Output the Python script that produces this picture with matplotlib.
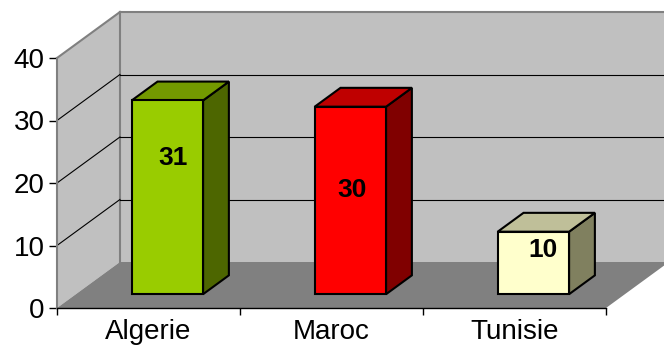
import matplotlib
matplotlib.use('Agg')
import matplotlib.pyplot as plt
from matplotlib.patches import Polygon

# --- DONNEES ---
pays = ['Algerie', 'Maroc', 'Tunisie']
valeurs = [31, 30, 10]
y_ticks = [0, 10, 20, 30, 40]

# couleurs des faces (avant, dessus, cote)
couleurs_face = ['#99CC00', '#FF0000', '#FFFFCC']
couleurs_dessus = ['#739900', '#BF0000', '#BFBF99']
couleurs_cote = ['#4D6600', '#800000', '#80805F']

# --- REGLAGES 3D ---
DX, DY = 0.344, 7.36      # profondeur totale (en unites de donnees)
F0 = 0.30                 # position avant des barres dans la profondeur
FB = 0.41                 # epaisseur des barres dans la profondeur
W = 0.39                  # largeur des barres
# placement des etiquettes (fraction de largeur, fraction de hauteur -> ligne de base)
label_pos = [(0.575, 0.667), (0.52, 0.519), (0.63, 0.596)]

plt.rcParams['font.family'] = ['Liberation Sans', 'DejaVu Sans']

fig = plt.figure(figsize=(6.64, 3.53), dpi=100)
ax = fig.add_axes([57 / 664, 45 / 353, 549 / 664, 250 / 353])
ax.set_xlim(0, 3)
ax.set_ylim(0, 40)
ax.patch.set_visible(False)


def poly(pts, fc, ec='none', lw=0, z=1):
    ax.add_patch(Polygon(pts, closed=True, facecolor=fc, edgecolor=ec,
                         linewidth=lw, zorder=z, clip_on=False))


ymax = y_ticks[-1]
xr = len(pays) + DX + 0.2

# murs et sol
poly([(0, 0), (0, ymax), (DX, ymax + DY), (DX, DY)], '#C0C0C0')
poly([(DX, DY), (DX, ymax + DY), (xr, ymax + DY), (xr, DY)], '#C0C0C0')
poly([(0, 0), (len(pays), 0), (len(pays) + DX, DY), (DX, DY)], '#808080')

# bords gris des murs
ax.plot([0, DX], [ymax, ymax + DY], color='#808080', lw=1.5, clip_on=False, zorder=1.5)
ax.plot([DX, DX], [DY, ymax + DY], color='#808080', lw=1.5, clip_on=False, zorder=1.5)
ax.plot([DX, xr], [ymax + DY, ymax + DY], color='#808080', lw=1.5, clip_on=False, zorder=1.5)

# quadrillage
for t in y_ticks[1:-1]:
    ax.plot([0, DX], [t, t + DY], color='black', lw=0.8, clip_on=False, zorder=1.6)
    ax.plot([DX, xr], [t + DY, t + DY], color='black', lw=0.8, clip_on=False, zorder=1.6)

# barres 3D
for i, v in enumerate(valeurs):
    x0 = i + 0.5 - W / 2 + F0 * DX
    y0 = F0 * DY
    x1 = x0 + W
    top = y0 + v
    bdx, bdy = FB * DX, FB * DY
    ec = 'black'
    poly([(x1, y0), (x1 + bdx, y0 + bdy), (x1 + bdx, top + bdy), (x1, top)],
         couleurs_cote[i], ec, 1.5, 3)
    poly([(x0, top), (x1, top), (x1 + bdx, top + bdy), (x0 + bdx, top + bdy)],
         couleurs_dessus[i], ec, 1.5, 3)
    poly([(x0, y0), (x1, y0), (x1, top), (x0, top)], couleurs_face[i], ec, 1.5, 4)
    fx, fy = label_pos[i]
    ax.text(x0 + W * fx, y0 + v * fy, str(v), ha='center', va='baseline',
            fontsize=19, fontweight='bold', zorder=5)

# axes
ax.spines['top'].set_visible(False)
ax.spines['right'].set_visible(False)
ax.spines['left'].set_color('#808080')
ax.spines['left'].set_linewidth(1.5)
ax.spines['bottom'].set_color('black')
ax.spines['bottom'].set_linewidth(1)

ax.set_yticks(y_ticks)
ax.tick_params(axis='y', length=6, width=1, pad=3, labelsize=20, colors='black')

ax.set_xticks(range(len(pays) + 1))
ax.set_xticklabels([])
ax.set_xticks([i + 0.5 for i in range(len(pays))], minor=True)
ax.set_xticklabels(pays, minor=True)
ax.tick_params(axis='x', which='major', length=5, width=1)
ax.tick_params(axis='x', which='minor', length=0, pad=8, labelsize=20)

plt.savefig('out.png', dpi=100, facecolor='white')
